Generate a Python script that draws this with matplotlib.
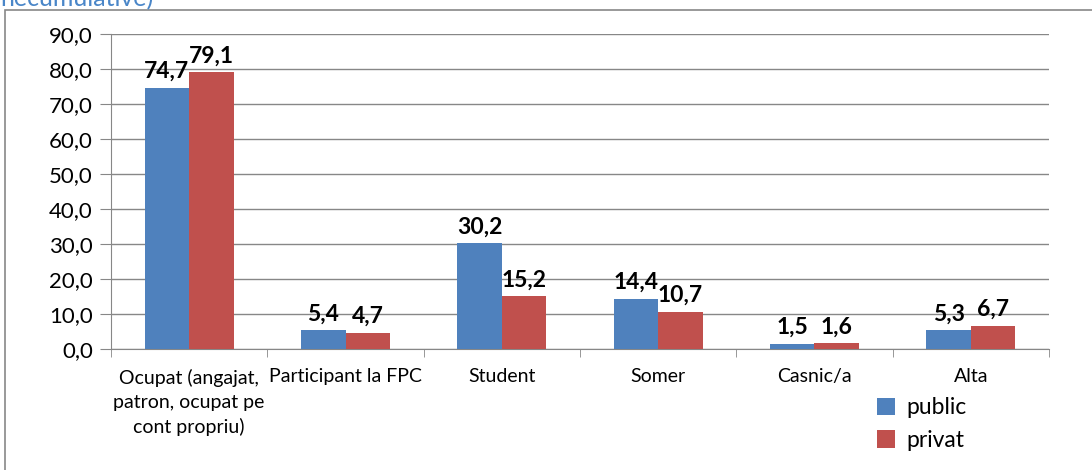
import matplotlib
matplotlib.use("Agg")
import matplotlib.pyplot as plt
from matplotlib.patches import Rectangle
import numpy as np

categories = ["Ocupat (angajat,\npatron, ocupat pe\ncont propriu)", "Participant la FPC",
              "Student", "Somer", "Casnic/a", "Alta"]
public = [74.7, 5.4, 30.2, 14.4, 1.5, 5.3]
privat = [79.1, 4.7, 15.2, 10.7, 1.6, 6.7]
series_names = ["public", "privat"]
yticks = [0, 10, 20, 30, 40, 50, 60, 70, 80, 90]

plt.rcParams['font.family'] = ['Lato', 'DejaVu Sans']

fig = plt.figure(figsize=(10.92, 4.70), dpi=100)
fig.patches.append(Rectangle((5/1092, -0.2), 1.2, 1.2 - 10/470, transform=fig.transFigure,
                             fill=False, edgecolor='#888888', linewidth=1.2))
fig.text(0/1092, 1.0 + 1/470, "necumulative)", color='#4A86C8', fontsize=18,
         ha='left', va='center')

ax = fig.add_axes([111/1092, 1 - 349/470, 938/1092, 315/470])
x = np.arange(len(categories))
w = 0.285
b1 = ax.bar(x - w/2, public, w, color='#4F81BD', label=series_names[0], zorder=3)
b2 = ax.bar(x + w/2, privat, w, color='#C0504D', label=series_names[1], zorder=3)

def fmt(v):
    return f"{v:.1f}".replace('.', ',')

for bars, vals in ((b1, public), (b2, privat)):
    for r, v in zip(bars, vals):
        ax.annotate(fmt(v), (r.get_x() + r.get_width()/2, v), xytext=(0, 4),
                    textcoords='offset points', ha='center', va='bottom',
                    fontsize=16.5, fontweight='bold', color='black')

ax.set_xlim(-0.5, len(categories) - 0.5)
ax.set_ylim(0, 90)
ax.set_yticks(yticks)
ax.set_yticklabels([fmt(v) for v in yticks], fontsize=16)
ax.yaxis.grid(True, color='#878787', linewidth=1, zorder=0)
ax.set_axisbelow(True)
ax.tick_params(axis='y', length=8, color='#878787', pad=5)

ax.set_xticks(x)
ax.set_xticklabels(categories, fontsize=14, va='top', linespacing=1.5)
ax.tick_params(axis='x', length=0, pad=14)
ax.set_xticks(np.arange(-0.5, len(categories)), minor=True)
ax.tick_params(axis='x', which='minor', length=6, color='#878787')

for s in ['top', 'right']:
    ax.spines[s].set_visible(False)
ax.spines['left'].set_color('#878787')
ax.spines['bottom'].set_color('#878787')

leg = fig.legend(handles=[b1, b2], loc='center', bbox_to_anchor=(922/1092, 1 - 424/470),
                 frameon=False, fontsize=16.5, handlelength=0.8, handleheight=0.8,
                 handletextpad=0.5, labelspacing=0.5)

fig.savefig("out.png", dpi=100)
